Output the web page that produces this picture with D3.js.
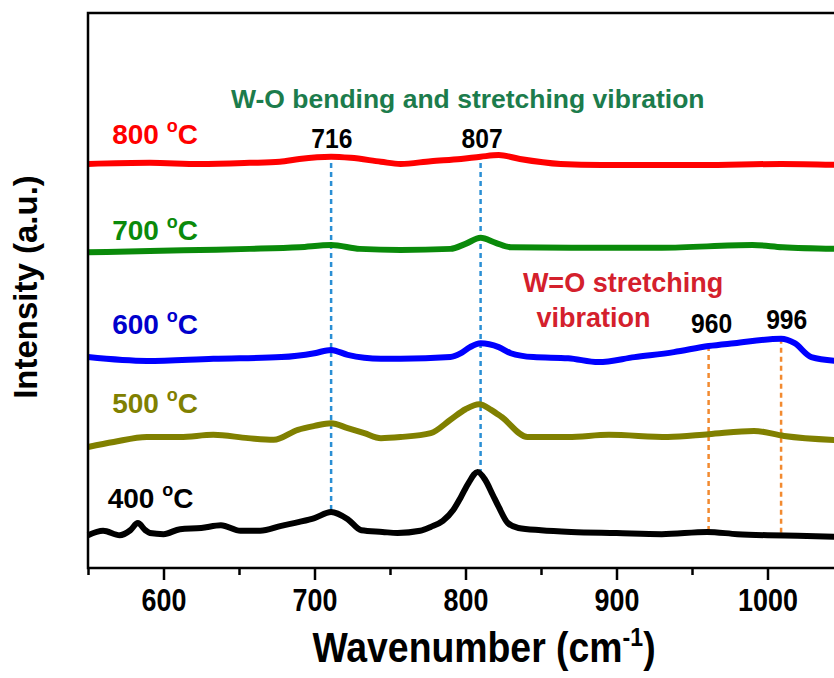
<!DOCTYPE html>
<html>
<head>
<meta charset="utf-8">
<script src="https://cdn.jsdelivr.net/npm/d3@7"></script>
<style>
  body { margin: 0; background: #fff; }
  svg { display: block; }
  text { font-family: "Liberation Sans", Arial, sans-serif; font-weight: bold; }
</style>
</head>
<body>
<div id="chart"></div>
<script>
// Raman spectra of WO3 films annealed at different temperatures
const temps = ["400", "500", "600", "700", "800"];
const colors = ["#000000", "#808000", "#0000ff", "#0a8a0a", "#ff0000"];

// wavenumber samples (cm-1) and stacked intensities (a.u.)
const wn400 = [550, 560, 571, 578, 583, 588, 591, 600, 611, 625, 638, 651, 664, 678, 690, 700, 711, 722, 731, 745, 755, 770, 777, 785, 792, 797, 802, 808, 813, 818, 822, 828, 835, 850, 870, 900, 930, 960, 980, 1000, 1020, 1050];
const int400 = [5.9, 6.7, 5.9, 6.8, 8.1, 6.8, 6.3, 6.1, 7.0, 7.2, 7.7, 6.7, 6.7, 7.6, 8.3, 9.0, 10.1, 8.8, 6.8, 6.5, 6.3, 6.7, 7.4, 8.5, 10.5, 12.8, 15.3, 17.3, 15.9, 13.2, 11.0, 8.1, 7.2, 6.8, 6.5, 6.3, 6.1, 6.5, 6.1, 5.9, 5.8, 5.6];

const wn500 = [550, 567, 589, 611, 633, 656, 673, 689, 700, 711, 722, 733, 744, 757, 777, 790, 800, 809, 817, 824, 841, 868, 895, 934, 961, 991, 1011, 1050];
const int500 = [21.8, 22.7, 23.6, 23.6, 24.0, 23.4, 23.1, 24.9, 25.6, 26.1, 25.2, 24.3, 23.4, 23.6, 24.3, 26.7, 28.6, 29.5, 28.5, 27.2, 23.6, 23.6, 24.0, 23.6, 24.1, 24.7, 23.8, 23.0];

const wn600 = [550, 589, 633, 678, 700, 711, 722, 744, 757, 790, 797, 803, 810, 822, 830, 845, 868, 888, 912, 938, 961, 978, 1009, 1018, 1029, 1050];
const int600 = [38.0, 37.3, 37.7, 38.0, 38.7, 39.3, 38.4, 37.7, 37.7, 38.0, 38.7, 39.8, 40.5, 39.8, 38.7, 38.0, 37.8, 37.1, 38.0, 38.9, 40.0, 40.5, 41.3, 40.5, 38.0, 37.2];

const wn700 = [550, 591, 624, 657, 690, 711, 730, 757, 790, 800, 810, 820, 830, 870, 930, 990, 1010, 1050];
const int700 = [56.9, 57.1, 57.3, 57.5, 57.8, 58.2, 57.5, 57.3, 57.5, 58.4, 59.5, 58.6, 57.8, 57.7, 57.7, 58.2, 57.8, 57.5];

const wn800 = [550, 591, 624, 657, 677, 690, 711, 724, 744, 757, 777, 797, 810, 822, 836, 863, 890, 956, 1009, 1050];
const int800 = [72.8, 73.0, 72.8, 73.0, 73.2, 73.7, 74.1, 73.9, 73.2, 72.8, 73.3, 73.7, 74.1, 74.4, 73.7, 72.8, 72.6, 72.6, 72.8, 72.6];

const seriesWn = [wn400, wn500, wn600, wn700, wn800];
const seriesInt = [int400, int500, int600, int700, int800];

// label anchors (wavenumber, intensity) for the temperature labels
const labelWn = [563, 566, 566, 566, 566];
const labelInt = [10.8, 27.9, 42.2, 59.1, 76.4];

// peak markers: text, drawn position, top and bottom of dashed line
const peakText = ["716", "807", "960", "996"];
const peakWn = [711, 810, 961, 1009];
const peakTop = [74.6, 74.6, 40.0, 41.3];
const peakBottom = [10.1, 17.1, 6.5, 6.0];
const peakTextWn = [711.5, 811, 963, 1012.7];
const peakTextInt = [75.7, 75.7, 42.3, 43.1];
const peakColor = ["#2a8fd4", "#2a8fd4", "#f28a30", "#f28a30"];

const xTicks = [600, 700, 800, 900, 1000];
const xMinor = [550, 650, 750, 850, 950, 1050];

const width = 834, height = 678;
const margin = { top: 13, left: 88, bottom: 110 };
const narrow = 0.84;  // no condensed font installed, squeeze instead

const svg = d3.select("#chart").append("svg")
  .attr("width", width)
  .attr("height", height);

const x = d3.scaleLinear().domain([550, 1050]).range([margin.left, margin.left + 755]);
const y = d3.scaleLinear().domain([0, 100]).range([height - margin.bottom, margin.top]);

const line = d3.line()
  .x(d => x(d[0]))
  .y(d => y(d[1]))
  .curve(d3.curveMonotoneX);

// dashed peak markers
svg.selectAll(".peak")
  .data(peakWn)
  .enter()
  .append("line")
  .attr("x1", d => x(d))
  .attr("x2", d => x(d))
  .attr("y1", (d, i) => y(peakTop[i]))
  .attr("y2", (d, i) => y(peakBottom[i]))
  .attr("stroke", (d, i) => peakColor[i])
  .attr("stroke-width", 2.5)
  .attr("stroke-dasharray", "5,4");

// spectra
svg.selectAll(".spec")
  .data(seriesWn)
  .enter()
  .append("path")
  .attr("d", (d, i) => line(d.map((w, j) => [w, seriesInt[i][j]])))
  .attr("fill", "none")
  .attr("stroke", (d, i) => colors[i])
  .attr("stroke-width", 6)
  .attr("stroke-linejoin", "round");

// peak values
svg.selectAll(".peaklabel")
  .data(peakText)
  .enter()
  .append("text")
  .attr("transform", (d, i) => `translate(${x(peakTextWn[i])},${y(peakTextInt[i])}) scale(0.88,1)`)
  .attr("text-anchor", "middle")
  .attr("font-size", 28)
  .text(d => d);

// temperature labels
const tl = svg.selectAll(".temp")
  .data(temps)
  .enter()
  .append("text")
  .attr("x", (d, i) => x(labelWn[i]))
  .attr("y", (d, i) => y(labelInt[i]))
  .attr("font-size", 28)
  .attr("fill", (d, i) => colors[i] === "#0000ff" ? "#0000cc" : colors[i]);
tl.append("tspan").text(d => d + " ");
tl.append("tspan").attr("dy", -12).attr("font-size", 18).text("o");
tl.append("tspan").attr("dy", 12).text("C");

// band assignments
svg.append("text")
  .attr("x", x(801.5))
  .attr("y", y(82.9))
  .attr("text-anchor", "middle")
  .attr("font-size", 26.5)
  .attr("fill", "#1c7c4c")
  .text("W-O bending and stretching vibration");

svg.append("text")
  .attr("x", x(838))
  .attr("y", y(49.7))
  .attr("font-size", 27)
  .attr("fill", "#d4202c")
  .text("W=O stretching");

svg.append("text")
  .attr("x", x(847))
  .attr("y", y(43.4))
  .attr("font-size", 27)
  .attr("fill", "#d4202c")
  .text("vibration");

// frame
svg.append("path")
  .attr("d", `M${x(1050) + 10},${y(100)} H${x(550)} V${y(0)} H${x(1050) + 10}`)
  .attr("fill", "none")
  .attr("stroke", "#000")
  .attr("stroke-width", 2.5);

// X axis
const xAxis = svg.append("g")
  .attr("transform", `translate(0, ${y(0)})`)
  .call(d3.axisBottom(x).tickValues(xTicks).tickSize(12).tickPadding(8).tickFormat(d3.format("d")));
xAxis.select(".domain").remove();
xAxis.selectAll("line").attr("stroke-width", 2.5);
xAxis.selectAll("text")
  .attr("font-size", 32)
  .attr("font-family", "Liberation Sans, Arial, sans-serif")
  .attr("font-weight", "bold")
  .attr("fill", "#000")
  .attr("transform", `scale(${narrow},1)`);

svg.append("g")
  .attr("transform", `translate(0, ${y(0)})`)
  .call(d3.axisBottom(x).tickValues(xMinor).tickSize(7).tickFormat(""))
  .call(g => g.select(".domain").remove())
  .selectAll("line").attr("stroke-width", 2.5);

// axis titles
const xt = svg.append("text")
  .attr("transform", "translate(484, 662) scale(0.89,1)")
  .attr("text-anchor", "middle")
  .attr("font-size", 42);
xt.append("tspan").text("Wavenumber (cm");
xt.append("tspan").attr("dy", -16).attr("font-size", 26).text("-1");
xt.append("tspan").attr("dy", 16).text(")");

svg.append("text")
  .attr("transform", "translate(37, 287) rotate(-90)")
  .attr("text-anchor", "middle")
  .attr("font-size", 33)
  .text("Intensity (a.u.)");
</script>
</body>
</html>
